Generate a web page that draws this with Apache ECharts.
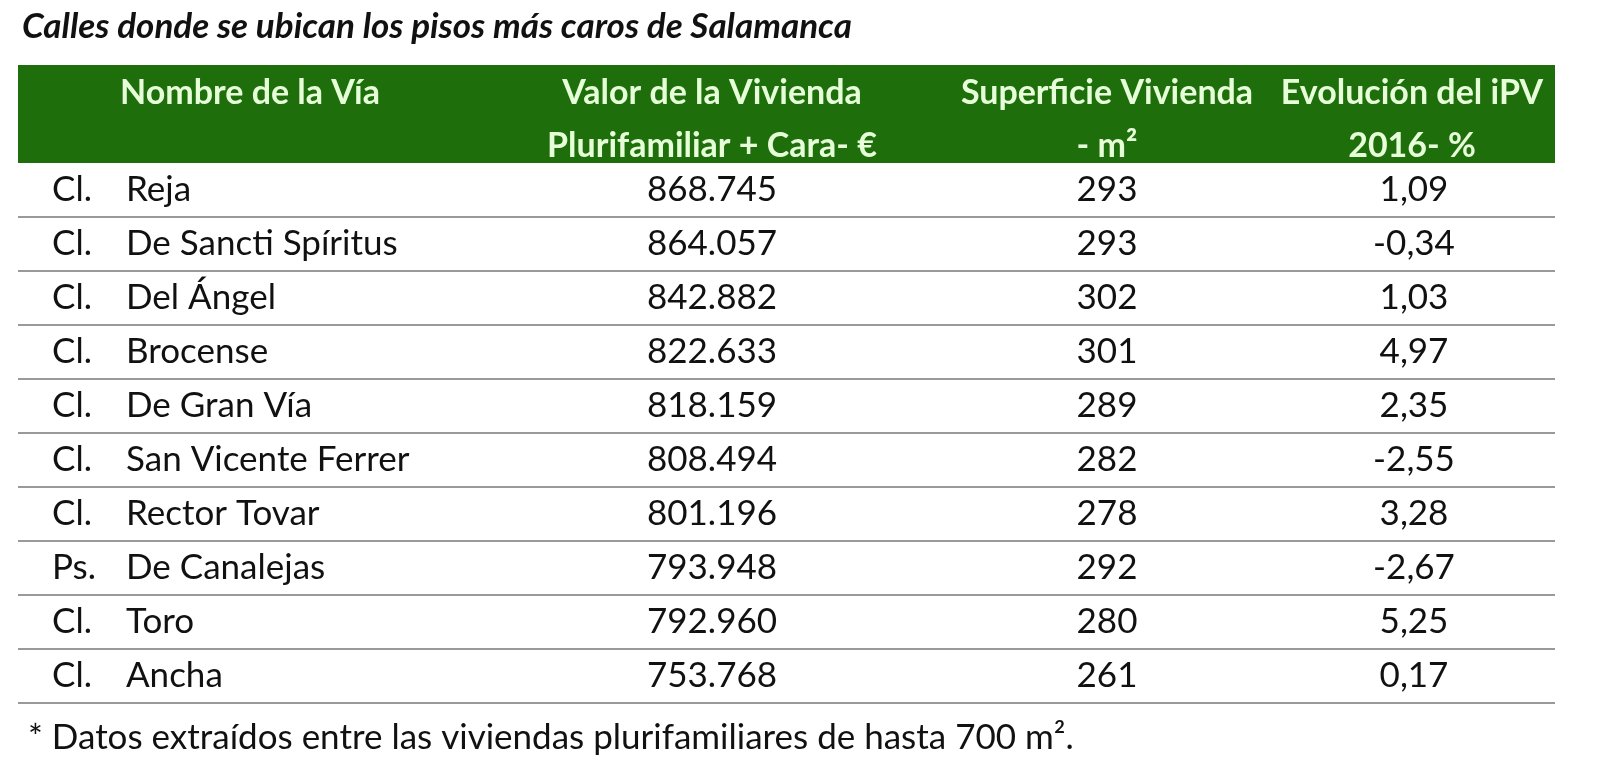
<!DOCTYPE html><html><head><meta charset="utf-8">
<script src="https://cdn.jsdelivr.net/npm/echarts@6/dist/echarts.min.js"></script>
<style>html,body{margin:0;background:#fff}#c{width:1600px;height:776px}</style></head><body><div id="c"></div>
<script>
const title='Calles donde se ubican los pisos más caros de Salamanca';
const headers1=['Nombre de la Vía','Valor de la Vivienda','Superficie Vivienda','Evolución del iPV'];
const headers2=['','Plurifamiliar + Cara- €','- m²','2016- %'];
const prefixes=['Cl.','Cl.','Cl.','Cl.','Cl.','Cl.','Cl.','Ps.','Cl.','Cl.'];
const streets=['Reja','De Sancti Spíritus','Del Ángel','Brocense','De Gran Vía','San Vicente Ferrer','Rector Tovar','De Canalejas','Toro','Ancha'];
const valores=['868.745','864.057','842.882','822.633','818.159','808.494','801.196','793.948','792.960','753.768'];
const superficies=[293,293,302,301,289,282,278,292,280,261];
const evolucion=['1,09','-0,34','1,03','4,97','2,35','-2,55','3,28','-2,67','5,25','0,17'];
const footnote='* Datos extraídos entre las viviendas plurifamiliares de hasta 700 m².';

const F='Lato, "Open Sans", sans-serif';
const g=[];
const top0=163,rh=54,L=18,R=1555;
g.push({type:'text',x:22,y:27,style:{text:title,font:'italic bold 35px '+F,fill:'#111',verticalAlign:'middle'}});
g.push({type:'rect',shape:{x:L,y:65,width:R-L,height:98},style:{fill:'#1f6e0c'}});
const hx=[250,712,1107,1412];
headers1.forEach((h,i)=>{
  g.push({type:'text',x:hx[i],y:93,style:{text:h,font:'bold 34px '+F,fill:'#e6ffd9',align:'center',verticalAlign:'middle'}});
  if(headers2[i])g.push({type:'text',x:hx[i],y:146,style:{text:headers2[i],font:'bold 34px '+F,fill:'#e6ffd9',align:'center',verticalAlign:'middle'}});
});
streets.forEach((s,i)=>{
  const cy=top0+rh*i+rh/2;
  const st={font:'35px '+F,fill:'#111',verticalAlign:'middle'};
  g.push({type:'text',x:52,y:cy,style:Object.assign({text:prefixes[i]},st)});
  g.push({type:'text',x:126,y:cy,style:Object.assign({text:s},st)});
  g.push({type:'text',x:712,y:cy,style:Object.assign({text:valores[i],align:'center'},st)});
  g.push({type:'text',x:1107,y:cy,style:Object.assign({text:String(superficies[i]),align:'center'},st)});
  g.push({type:'text',x:1414,y:cy,style:Object.assign({text:evolucion[i],align:'center'},st)});
  const ly=top0+rh*(i+1);
  g.push({type:'line',shape:{x1:L,y1:ly,x2:R,y2:ly},style:{stroke:'#9a9a9a',lineWidth:2}});
});
g.push({type:'text',x:28,y:738,style:{text:footnote,font:'35px '+F,fill:'#111',verticalAlign:'middle'}});
const chart=echarts.init(document.getElementById('c'));
chart.setOption({animation:false,graphic:g});
</script></body></html>
